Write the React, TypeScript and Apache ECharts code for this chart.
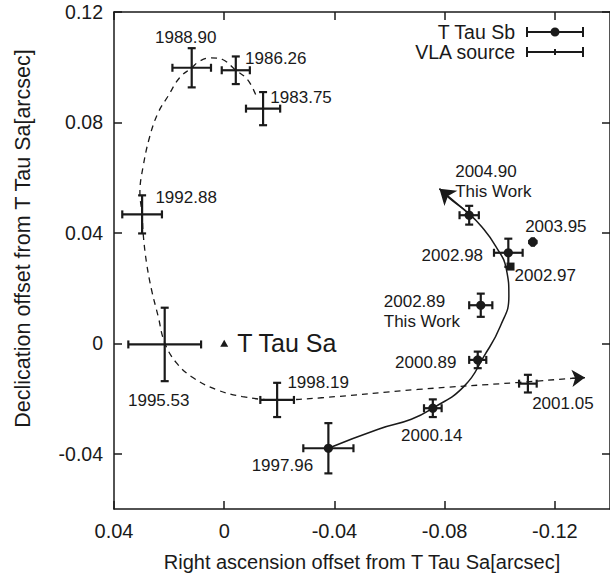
import React, { useEffect, useRef } from "react";
import * as echarts from "echarts";

// ---- data ----
const vlaEpochs = ["1983.75", "1986.26", "1988.90", "1992.88", "1995.53", "1998.19", "2001.05"];
const vlaRA = [-0.0141, -0.0042, 0.0118, 0.0298, 0.0216, -0.0192, -0.1102];
const vlaDec = [0.085, 0.0989, 0.0998, 0.0467, -0.0004, -0.0205, -0.0146];
const vlaRAErr = [0.0062, 0.0051, 0.007, 0.0072, 0.0132, 0.0061, 0.0032];
const vlaDecErr = [0.006, 0.005, 0.0071, 0.0069, 0.0133, 0.0062, 0.0032];

const sbEpochs = ["1997.96", "2000.14", "2000.89", "2002.89", "2002.98", "2003.95", "2004.90"];
const sbNotes = ["", "", "", "This Work", "", "", "This Work"];
const sbRA = [-0.0378, -0.0757, -0.092, -0.0931, -0.1031, -0.112, -0.0889];
const sbDec = [-0.038, -0.0235, -0.006, 0.0138, 0.0328, 0.0367, 0.0464];
const sbRAErr = [0.0091, 0.0032, 0.0031, 0.0042, 0.0052, 0.0013, 0.0035];
const sbDecErr = [0.0091, 0.0032, 0.003, 0.0042, 0.0051, 0.0013, 0.0034];

const squareEpochs = ["2002.97"];
const squareRA = [-0.1039];
const squareDec = [0.0278];

const primaryName = "T Tau Sa";
const primaryRA = [0];
const primaryDec = [0];

// dashed VLA path, last point = arrow tip
const vlaPathRA = [
  -0.0114, -0.0084, -0.0042, 0.0006, 0.0048, 0.009, 0.0118, 0.0162, 0.0204, 0.024, 0.027,
  0.0294, 0.0306, 0.0298, 0.0294, 0.0282, 0.0264, 0.024, 0.0216, 0.0174, 0.0114, 0.003,
  -0.0066, -0.0192, -0.0354, -0.0703, -0.1063, -0.1261, -0.1309,
];
const vlaPathDec = [
  0.0901, 0.0956, 0.0989, 0.1028, 0.1034, 0.1022, 0.0998, 0.0962, 0.0895, 0.0835, 0.075,
  0.0642, 0.0546, 0.0467, 0.0395, 0.0292, 0.0195, 0.0099, 0.0002, -0.007, -0.0124, -0.0167,
  -0.0193, -0.0205, -0.0197, -0.0167, -0.0142, -0.0127, -0.0124,
];

// solid Sb orbit, last point = arrow tip
const sbOrbitRA = [
  -0.0378, -0.0559, -0.0679, -0.0757, -0.0871, -0.0943, -0.1002, -0.1033, -0.1024, -0.0985,
  -0.0932, -0.0883, -0.0818, -0.0781,
];
const sbOrbitDec = [
  -0.038, -0.0311, -0.0275, -0.0235, -0.0155, -0.0046, 0.0062, 0.0171, 0.0268, 0.0352,
  0.0425, 0.0474, 0.0525, 0.056,
];

const xTicks = [0.04, 0, -0.04, -0.08, -0.12];
const yTicks = [-0.04, 0, 0.04, 0.08, 0.12];

// ---- styling (label placement, px) ----
const vlaLabelOffset: [number, number][] = [
  [38, -11], [40, -12], [-6, -30], [44, -17], [-6, 56], [41, -17], [35, 20],
];
const vlaLabelAlign = ["center", "center", "center", "center", "center", "center", "center"];
const sbLabelOffset: [number, number][] = [
  [-46, 17], [-1, 27], [-52, 3], [-97, 6], [-56, 3], [23, -16], [-14, -34],
];
const sbLabelAlign = ["center", "center", "center", "left", "center", "center", "left"];

const INK = "#1a1a1a";
const FONT = '"Liberation Sans", Arial, Helvetica, sans-serif';

const fmt = (v: number) => (Math.abs(v) < 1e-9 ? "0" : v.toFixed(2));

function makeErrorRender(
  withMarker: boolean,
  labels: string[],
  offsets: [number, number][],
  aligns: string[]
) {
  return (params: any, api: any) => {
    const i = params.dataIndex;
    const x = api.value(0);
    const y = api.value(1);
    const xe = api.value(2);
    const ye = api.value(3);
    const c = api.coord([x, y]);
    const l = api.coord([x + xe, y]);
    const r = api.coord([x - xe, y]);
    const t = api.coord([x, y + ye]);
    const b = api.coord([x, y - ye]);
    const capX = Math.min(4, 0.6 * Math.abs(r[0] - c[0]));
    const capY = Math.min(4, 0.6 * Math.abs(b[1] - c[1]));
    const st = { stroke: INK, lineWidth: 2.2 };
    const ln = (x1: number, y1: number, x2: number, y2: number) => ({
      type: "line",
      shape: { x1, y1, x2, y2 },
      style: st,
    });
    const children: any[] = [
      ln(l[0], c[1], r[0], c[1]),
      ln(c[0], t[1], c[0], b[1]),
      ln(l[0], c[1] - capX, l[0], c[1] + capX),
      ln(r[0], c[1] - capX, r[0], c[1] + capX),
      ln(c[0] - capY, t[1], c[0] + capY, t[1]),
      ln(c[0] - capY, b[1], c[0] + capY, b[1]),
    ];
    if (withMarker) {
      children.push({
        type: "circle",
        shape: { cx: c[0], cy: c[1], r: 4.6 },
        style: { fill: INK },
      });
    }
    const off = offsets[i];
    children.push({
      type: "text",
      x: c[0] + off[0],
      y: c[1] + off[1],
      style: {
        text: labels[i],
        font: `17px ${FONT}`,
        fill: INK,
        align: aligns[i],
        verticalAlign: "middle",
        lineHeight: 20,
      },
    });
    return { type: "group", children };
  };
}

const sbIcon =
  "path://M0,0 H2 V10 H0 Z M56,0 H58 V10 H56 Z M0,4 H58 V6 H0 Z M33.5,5 A4.5,4.5 0 1 1 24.5,5 A4.5,4.5 0 1 1 33.5,5 Z";
const vlaIcon =
  "path://M0,0 H2 V10 H0 Z M56,0 H58 V10 H56 Z M0,4 H58 V6 H0 Z M28,2 H30 V8 H28 Z";

export default function App() {
  const ref = useRef<HTMLDivElement>(null);
  useEffect(() => {
    if (!ref.current) return;
    const chart = echarts.init(ref.current, undefined, { renderer: "svg" });

    const sbLabels = sbEpochs.map((e, i) => (sbNotes[i] ? `${e}\n${sbNotes[i]}` : e));
    const axisLineStyle = { color: INK, width: 1.5 };

    const baseX = {
      type: "value",
      inverse: true,
      min: -0.14,
      max: 0.04,
      splitLine: { show: false },
      axisLine: { show: true, onZero: false, lineStyle: axisLineStyle },
    };
    const baseY = {
      type: "value",
      min: -0.06,
      max: 0.12,
      splitLine: { show: false },
      axisLine: { show: true, onZero: false, lineStyle: axisLineStyle },
    };

    chart.setOption({
      animation: false,
      backgroundColor: "#ffffff",
      grid: { left: 114, top: 12, width: 499.5, height: 499, containLabel: false },
      legend: {
        orient: "vertical",
        right: 21,
        top: 17,
        align: "right",
        itemWidth: 58,
        itemHeight: 10,
        itemGap: 0,
        selectedMode: false,
        textStyle: { fontSize: 19.5, color: INK, fontFamily: FONT, padding: [0, 6, 0, 0] },
        data: [
          { name: "T Tau Sb", icon: sbIcon },
          { name: "VLA source", icon: vlaIcon },
        ],
      },
      xAxis: [
        {
          ...baseX,
          position: "bottom",
          name: "Right ascension offset from T Tau Sa[arcsec]",
          nameLocation: "middle",
          nameGap: 43,
          nameTextStyle: { fontSize: 20, color: INK, fontFamily: FONT },
          axisTick: {
            show: true,
            inside: true,
            length: 8,
            customValues: xTicks,
            lineStyle: axisLineStyle,
          },
          axisLabel: {
            show: true,
            customValues: xTicks,
            formatter: fmt,
            fontSize: 20,
            color: INK,
            fontFamily: FONT,
            margin: 12,
          },
        },
        {
          ...baseX,
          position: "top",
          axisTick: {
            show: true,
            inside: true,
            length: 8,
            customValues: xTicks,
            lineStyle: axisLineStyle,
          },
          axisLabel: { show: false },
        },
      ],
      yAxis: [
        {
          ...baseY,
          position: "left",
          name: "Declication offset from T Tau Sa[arcsec]",
          nameLocation: "middle",
          nameGap: 80,
          nameTextStyle: {
            fontSize: 21.5,
            color: INK,
            fontFamily: FONT,
            padding: [0, 0, 0, 44],
          },
          axisTick: {
            show: true,
            inside: true,
            length: 8,
            customValues: yTicks,
            lineStyle: axisLineStyle,
          },
          axisLabel: {
            show: true,
            customValues: yTicks,
            formatter: fmt,
            fontSize: 19.5,
            color: INK,
            fontFamily: FONT,
            margin: 11,
          },
        },
        {
          ...baseY,
          position: "right",
          axisTick: {
            show: true,
            inside: true,
            length: 8,
            customValues: yTicks,
            lineStyle: axisLineStyle,
          },
          axisLabel: { show: false },
        },
      ],
      series: [
        {
          name: "VLA path",
          type: "line",
          smooth: 0.4,
          symbol: "none",
          silent: true,
          data: vlaPathRA.map((x, i) => [x, vlaPathDec[i]]),
          lineStyle: { color: INK, width: 1.3, type: [6, 5] },
          z: 1,
        },
        {
          name: "Sb orbit",
          type: "line",
          smooth: 0.5,
          symbol: "none",
          silent: true,
          data: sbOrbitRA.map((x, i) => [x, sbOrbitDec[i]]),
          lineStyle: { color: INK, width: 1.5 },
          z: 1,
        },
        {
          name: "arrows",
          type: "lines",
          coordinateSystem: "cartesian2d",
          silent: true,
          symbol: ["none", "arrow"],
          symbolSize: [9, 13],
          lineStyle: { color: INK, width: 1.5, opacity: 1, curveness: 0 },
          data: [
            {
              coords: [
                [sbOrbitRA[sbOrbitRA.length - 3], sbOrbitDec[sbOrbitDec.length - 3]],
                [sbOrbitRA[sbOrbitRA.length - 1], sbOrbitDec[sbOrbitDec.length - 1]],
              ],
              symbolSize: [10, 15],
            },
            {
              coords: [
                [vlaPathRA[vlaPathRA.length - 2], vlaPathDec[vlaPathDec.length - 2]],
                [vlaPathRA[vlaPathRA.length - 1], vlaPathDec[vlaPathDec.length - 1]],
              ],
              lineStyle: { width: 1.3 },
            },
          ],
          z: 2,
        },
        {
          name: "VLA source",
          type: "custom",
          itemStyle: { color: INK },
          renderItem: makeErrorRender(false, vlaEpochs, vlaLabelOffset, vlaLabelAlign),
          encode: { x: 0, y: 1 },
          data: vlaRA.map((x, i) => [x, vlaDec[i], vlaRAErr[i], vlaDecErr[i]]),
          z: 3,
        },
        {
          name: "T Tau Sb",
          type: "custom",
          itemStyle: { color: INK },
          renderItem: makeErrorRender(true, sbLabels, sbLabelOffset, sbLabelAlign),
          encode: { x: 0, y: 1 },
          data: sbRA.map((x, i) => [x, sbDec[i], sbRAErr[i], sbDecErr[i]]),
          z: 3,
        },
        {
          name: "2002.97",
          type: "scatter",
          symbol: "rect",
          symbolSize: 8,
          itemStyle: { color: INK, opacity: 1 },
          data: squareRA.map((x, i) => [x, squareDec[i]]),
          label: {
            show: true,
            position: "right",
            distance: 0,
            offset: [0, 9],
            formatter: (p: any) => squareEpochs[p.dataIndex],
            fontSize: 17,
            color: INK,
            opacity: 1,
            fontFamily: FONT,
          },
          z: 3,
        },
        {
          name: primaryName,
          type: "scatter",
          symbol: "triangle",
          symbolSize: [8, 7],
          itemStyle: { color: INK, opacity: 1 },
          data: primaryRA.map((x, i) => [x, primaryDec[i]]),
          label: {
            show: true,
            position: "right",
            distance: 9,
            formatter: primaryName,
            fontSize: 25,
            color: INK,
            opacity: 1,
            fontFamily: FONT,
          },
          z: 3,
        },
      ],
    });
    return () => chart.dispose();
  }, []);
  return (
    <div
      ref={ref}
      style={{ position: "fixed", left: 0, top: 0, width: 610, height: 577, background: "#fff" }}
    />
  );
}
